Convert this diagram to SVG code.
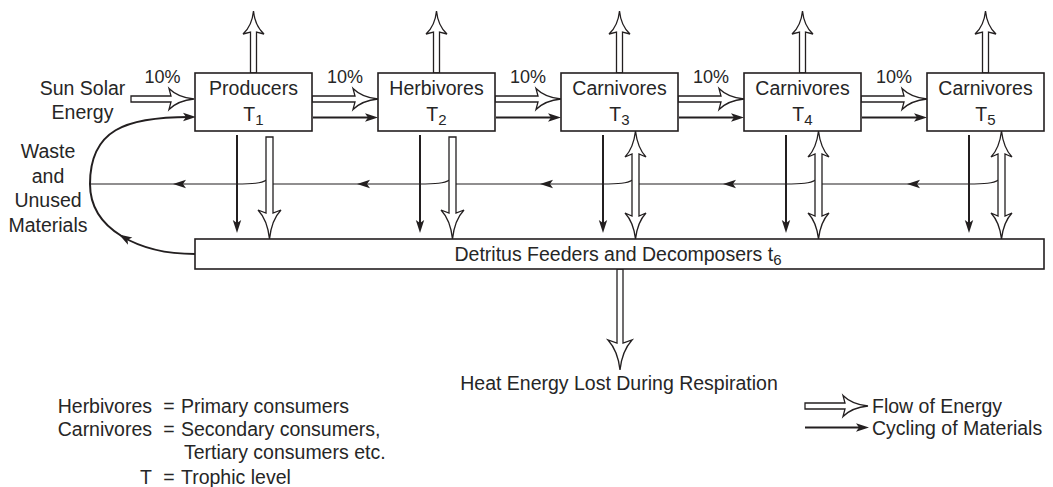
<svg xmlns="http://www.w3.org/2000/svg" width="1053" height="487" viewBox="0 0 1053 487">
<style>
.t{font-family:"Liberation Sans",Arial,Helvetica,sans-serif;font-size:19.5px;fill:#262626}
.p{font-size:18px}
.s{font-size:15px}
.box{fill:#fff;stroke:#231f20;stroke-width:1.6}
.ho{fill:#fff;stroke:#231f20;stroke-width:1.3;stroke-linejoin:miter}
.th{fill:none;stroke:#231f20;stroke-width:2}
.rl{fill:none;stroke:#231f20;stroke-width:1.1}
.ah{fill:#231f20;stroke:none}
</style>
<defs>
<path id="hz" d="M-66,-3 L-23,-3 L-25,-10.5 Q-16,-1.5 0,0 Q-16,1.5 -25,10.5 L-23,3 L-66,3 Z"/>
<path id="sun" d="M-63,-3 L-23,-3 L-25,-10.5 Q-16,-1.5 0,0 Q-16,1.5 -25,10.5 L-23,3 L-63,3 Z"/>
<path id="up" d="M-62,-3 L-21,-3 L-23,-10.5 Q-15,-1.5 0,0 Q-15,1.5 -23,10.5 L-21,3 L-62,3 Z"/>
<path id="dn" d="M-102,-3.5 L-26,-3.5 L-29,-11.5 Q-19,-2 0,0 Q-19,2 -29,11.5 L-26,3.5 L-102,3.5 Z"/>
<path id="heat" d="M-101,-3 L-27,-3 L-30,-12 Q-19,-2 0,0 Q-19,2 -30,12 L-27,3 L-101,3 Z"/>
<path id="dbl" d="M0,0 Q-17,-2 -26,-10.5 L-23,-3.5 L-85,-3.5 L-82,-10.5 Q-91,-2 -108,0 Q-91,2 -82,10.5 L-85,3.5 L-23,3.5 L-26,10.5 Q-17,2 0,0 Z"/>
<path id="ah" d="M0,0 L-13,-4.2 L-10,0 L-13,4.2 Z"/>
</defs>

<g id="connectors">
  <!-- waste / unused materials loop -->
  <path class="th" d="M195,254 C140,254 90,230 90,184 C90,130 125,117 190,117"/>
  <use href="#ah" class="ah" transform="translate(196,117)"/>
  <use href="#ah" class="ah" transform="translate(119,234.5) rotate(211)"/>

  <!-- return line of materials -->
  <path class="rl" d="M998.5,180 C993,183.5 985,184 968,184 L821.5,184"/>
  <path class="rl" d="M815.5,180 C810,183.5 802,184 785,184 L638.5,184"/>
  <path class="rl" d="M632.5,180 C627,183.5 619,184 602,184 L455.5,184"/>
  <path class="rl" d="M449.5,180 C444,183.5 436,184 419,184 L272.5,184"/>
  <path class="rl" d="M266.5,180 C261,183.5 253,184 236,184 L90,184"/>
  <use href="#ah" class="ah" transform="translate(907,184) rotate(180)"/>
  <use href="#ah" class="ah" transform="translate(723,184) rotate(180)"/>
  <use href="#ah" class="ah" transform="translate(540,184) rotate(180)"/>
  <use href="#ah" class="ah" transform="translate(357,184) rotate(180)"/>
  <use href="#ah" class="ah" transform="translate(173,184) rotate(180)"/>

  <!-- thin horizontal material arrows -->
  <line class="th" x1="313" y1="117.5" x2="368" y2="117.5"/>
  <line class="th" x1="496" y1="117.5" x2="551" y2="117.5"/>
  <line class="th" x1="679" y1="117.5" x2="734" y2="117.5"/>
  <line class="th" x1="862" y1="117.5" x2="917" y2="117.5"/>
  <use href="#ah" class="ah" transform="translate(378,117.5)"/>
  <use href="#ah" class="ah" transform="translate(561,117.5)"/>
  <use href="#ah" class="ah" transform="translate(744,117.5)"/>
  <use href="#ah" class="ah" transform="translate(927,117.5)"/>

  <!-- thin down arrows to detritus -->
  <line class="th" x1="237" y1="135" x2="237" y2="224"/>
  <line class="th" x1="420" y1="135" x2="420" y2="224"/>
  <line class="th" x1="603" y1="135" x2="603" y2="224"/>
  <line class="th" x1="786" y1="135" x2="786" y2="224"/>
  <line class="th" x1="969" y1="135" x2="969" y2="224"/>
  <use href="#ah" class="ah" transform="translate(237,233) rotate(90)"/>
  <use href="#ah" class="ah" transform="translate(420,233) rotate(90)"/>
  <use href="#ah" class="ah" transform="translate(603,233) rotate(90)"/>
  <use href="#ah" class="ah" transform="translate(786,233) rotate(90)"/>
  <use href="#ah" class="ah" transform="translate(969,233) rotate(90)"/>

  <!-- hollow energy arrows -->
  <use href="#sun" class="ho" transform="translate(194,99)"/>
  <use href="#hz" class="ho" transform="translate(378,99)"/>
  <use href="#hz" class="ho" transform="translate(561,99)"/>
  <use href="#hz" class="ho" transform="translate(744,99)"/>
  <use href="#hz" class="ho" transform="translate(927,99)"/>

  <use href="#up" class="ho" transform="translate(253.5,11) rotate(-90)"/>
  <use href="#up" class="ho" transform="translate(436.5,11) rotate(-90)"/>
  <use href="#up" class="ho" transform="translate(619.5,11) rotate(-90)"/>
  <use href="#up" class="ho" transform="translate(802.5,11) rotate(-90)"/>
  <use href="#up" class="ho" transform="translate(985.5,11) rotate(-90)"/>

  <use href="#dn" class="ho" transform="translate(269.5,239) rotate(90)"/>
  <use href="#dn" class="ho" transform="translate(452.5,239) rotate(90)"/>
  <use href="#dbl" class="ho" transform="translate(635.5,239) rotate(90)"/>
  <use href="#dbl" class="ho" transform="translate(818.5,239) rotate(90)"/>
  <use href="#dbl" class="ho" transform="translate(1001.5,239) rotate(90)"/>

  <use href="#heat" class="ho" transform="translate(620,370) rotate(90)"/>
</g>

<g id="producers">
  <rect class="box" x="195" y="73" width="117" height="58"/>
  <text class="t" x="253.5" y="95" text-anchor="middle">Producers</text>
  <text class="t" x="253.5" y="121" text-anchor="middle">T<tspan class="s" dy="4">1</tspan></text>
</g>
<g id="herbivores">
  <rect class="box" x="378" y="73" width="117" height="58"/>
  <text class="t" x="436.5" y="95" text-anchor="middle">Herbivores</text>
  <text class="t" x="436.5" y="121" text-anchor="middle">T<tspan class="s" dy="4">2</tspan></text>
</g>
<g id="carnivores-t3">
  <rect class="box" x="561" y="73" width="117" height="58"/>
  <text class="t" x="619.5" y="95" text-anchor="middle">Carnivores</text>
  <text class="t" x="619.5" y="121" text-anchor="middle">T<tspan class="s" dy="4">3</tspan></text>
</g>
<g id="carnivores-t4">
  <rect class="box" x="744" y="73" width="117" height="58"/>
  <text class="t" x="802.5" y="95" text-anchor="middle">Carnivores</text>
  <text class="t" x="802.5" y="121" text-anchor="middle">T<tspan class="s" dy="4">4</tspan></text>
</g>
<g id="carnivores-t5">
  <rect class="box" x="927" y="73" width="117" height="58"/>
  <text class="t" x="985.5" y="95" text-anchor="middle">Carnivores</text>
  <text class="t" x="985.5" y="121" text-anchor="middle">T<tspan class="s" dy="4">5</tspan></text>
</g>
<g id="detritus">
  <rect class="box" x="195" y="239" width="849" height="30"/>
  <text class="t" x="618" y="261" text-anchor="middle">Detritus Feeders and Decomposers t<tspan class="s" dy="4">6</tspan></text>
</g>

<g id="labels">
  <text class="t" x="82.5" y="95" text-anchor="middle">Sun Solar</text>
  <text class="t" x="82.5" y="119" text-anchor="middle">Energy</text>
  <text class="t" x="48" y="158" text-anchor="middle">Waste</text>
  <text class="t" x="48" y="182.5" text-anchor="middle">and</text>
  <text class="t" x="48" y="207" text-anchor="middle">Unused</text>
  <text class="t" x="48" y="231.5" text-anchor="middle">Materials</text>
  <text class="t p" x="162.5" y="82.5" text-anchor="middle">10%</text>
  <text class="t p" x="345" y="82.5" text-anchor="middle">10%</text>
  <text class="t p" x="528" y="82.5" text-anchor="middle">10%</text>
  <text class="t p" x="711" y="82.5" text-anchor="middle">10%</text>
  <text class="t p" x="894" y="82.5" text-anchor="middle">10%</text>
  <text class="t" x="619" y="390" text-anchor="middle">Heat Energy Lost During Respiration</text>
</g>

<g id="legend">
  <text class="t" x="152" y="413" text-anchor="end">Herbivores</text>
  <text class="t" x="169" y="413" text-anchor="middle">=</text>
  <text class="t" x="181" y="413">Primary consumers</text>
  <text class="t" x="152" y="436" text-anchor="end">Carnivores</text>
  <text class="t" x="169" y="436" text-anchor="middle">=</text>
  <text class="t" x="181" y="436">Secondary consumers,</text>
  <text class="t" x="184" y="459">Tertiary consumers etc.</text>
  <text class="t" x="152" y="484" text-anchor="end">T</text>
  <text class="t" x="169" y="484" text-anchor="middle">=</text>
  <text class="t" x="181" y="484">Trophic level</text>

  <use href="#sun" class="ho" transform="translate(868,406)"/>
  <line class="th" x1="805" y1="427.5" x2="860" y2="427.5"/>
  <use href="#ah" class="ah" transform="translate(869,427.5)"/>
  <text class="t" x="872" y="413">Flow of Energy</text>
  <text class="t" x="872" y="435">Cycling of Materials</text>
</g>
</svg>
